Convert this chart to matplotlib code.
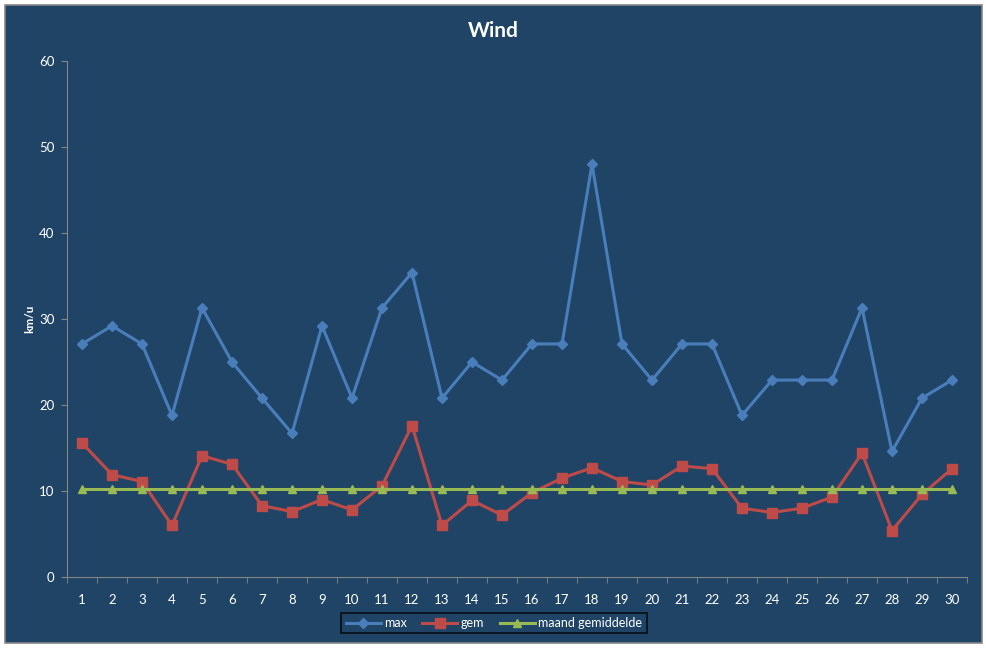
import numpy as np
import matplotlib.pyplot as plt
from matplotlib.patches import Rectangle

# daggegevens wind (km/u)
dagen = list(range(1, 31))
wind_max = [27.1, 29.2, 27.1, 18.8, 31.3, 25.0, 20.8, 16.7, 29.2, 20.8,
            31.3, 35.4, 20.8, 25.0, 22.9, 27.1, 27.1, 48.0, 27.1, 22.9,
            27.1, 27.1, 18.8, 22.9, 22.9, 22.9, 31.3, 14.6, 20.8, 22.9]
wind_gem = [15.6, 11.9, 11.1, 6.0, 14.1, 13.1, 8.3, 7.6, 9.0, 7.8,
            10.6, 17.6, 6.0, 8.9, 7.2, 9.8, 11.5, 12.7, 11.1, 10.7,
            12.9, 12.6, 8.0, 7.5, 8.0, 9.3, 14.4, 5.4, 9.6, 12.6]
maand_gem = [10.2, 10.2, 10.2, 10.2, 10.2, 10.2, 10.2, 10.2, 10.2, 10.2,
             10.2, 10.2, 10.2, 10.2, 10.2, 10.2, 10.2, 10.2, 10.2, 10.2,
             10.2, 10.2, 10.2, 10.2, 10.2, 10.2, 10.2, 10.2, 10.2, 10.2]

bg = '#1F4466'
txt = '#FFFFFF'
asgrijs = '#868686'

plt.rcParams['font.family'] = ['Lato', 'DejaVu Sans']

fig = plt.figure(figsize=(9.87, 6.48), dpi=100, facecolor='white')
# donkerblauw kader met grijze rand
fig.patches.append(Rectangle((5/987, 1-643/648), 977/987, 638/648, transform=fig.transFigure,
                             facecolor=bg, edgecolor=asgrijs, lw=1.2, zorder=-10))

ax = fig.add_axes([67/987, 1-577/648, 900/987, 516/648])
ax.set_facecolor('none')

ax.plot(dagen, wind_max, color='#4A7EBB', lw=2.2, marker='D', ms=5, label='max')
ax.plot(dagen, wind_gem, color='#BE4B48', lw=2.2, marker='s', ms=7, label='gem')
ax.plot(dagen, maand_gem, color='#98B954', lw=2.2, marker='^', ms=6, label='maand gemiddelde')

ax.set_xlim(0.5, 30.5)
ax.set_ylim(0, 60)
ax.set_yticks(range(0, 61, 10))
ax.set_xticks(dagen)
ax.set_xticks(np.arange(0.5, 31, 1), minor=True)
ax.tick_params(axis='x', which='major', length=0, pad=12, colors=txt, labelsize=9.5)
ax.tick_params(axis='x', which='minor', length=4, color=asgrijs, direction='out')
ax.tick_params(axis='y', length=4, color=asgrijs, colors=txt, labelsize=9.5, pad=5)
for kant in ['top', 'right']:
    ax.spines[kant].set_visible(False)
for kant in ['left', 'bottom']:
    ax.spines[kant].set_color(asgrijs)

ax.set_ylabel('km/u', color=txt, fontsize=8.5, fontweight='bold', labelpad=3)
fig.text(493/987, 1-31/648, 'Wind', color=txt, fontsize=15, fontweight='bold',
         ha='center', va='center')

leg = ax.legend(loc='center', bbox_to_anchor=(494/987, 1-623/648), bbox_transform=fig.transFigure,
                ncol=3, frameon=True, fontsize=9, handlelength=2.8, columnspacing=1.2,
                handletextpad=0.3, borderpad=0.35, fancybox=False)
leg.get_frame().set_facecolor(bg)
leg.get_frame().set_edgecolor('black')
leg.get_frame().set_linewidth(1.2)
for t in leg.get_texts():
    t.set_color(txt)

fig.savefig('out.png', dpi=100, facecolor='white')
